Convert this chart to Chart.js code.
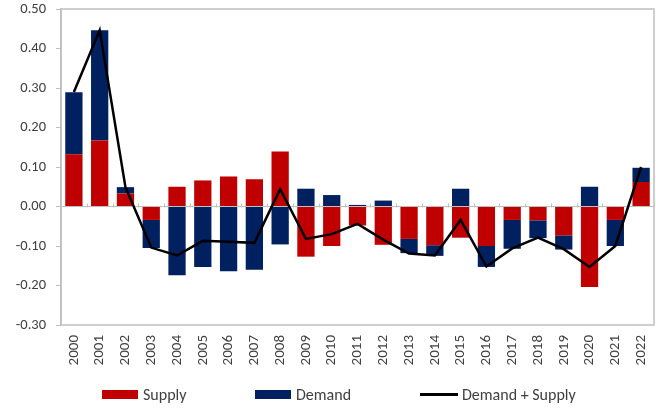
<!DOCTYPE html>
<html>
<head>
<meta charset="utf-8">
<script src="https://cdn.jsdelivr.net/npm/chart.js@4"></script>
<style>
  html, body { margin: 0; padding: 0; background: #fff; }
  #wrap { position: relative; width: 656px; height: 409px; }
  #legend {
    position: absolute; left: 102px; top: 385px; height: 19px;
    display: flex; align-items: center;
    font-family: Carlito, Lato, 'Open Sans', sans-serif; font-size: 16px; color: #404040;
  }
  .item { display: flex; align-items: center; white-space: nowrap; }
  .item:nth-child(1) { width: 153px; }
  .item:nth-child(2) { width: 165px; }
  .swatch { width: 36px; height: 9px; margin-right: 5px; }
  .swatch.line { width: 38px; height: 3px; margin-right: 4px; }
</style>
</head>
<body>
<div id="wrap">
  <canvas id="my_chart"></canvas>
  <div id="legend"></div>
</div>
<script>
const years = ["2000","2001","2002","2003","2004","2005","2006","2007","2008","2009","2010","2011",
  "2012","2013","2014","2015","2016","2017","2018","2019","2020","2021","2022"]

const supply = [0.132, 0.167, 0.033, -0.034, 0.050, 0.066, 0.076, 0.069, 0.139, -0.127, -0.100, -0.048,
  -0.097, -0.082, -0.098, -0.079, -0.100, -0.034, -0.035, -0.073, -0.204, -0.034, 0.062]

const demand = [0.157, 0.279, 0.016, -0.071, -0.174, -0.153, -0.164, -0.160, -0.096, 0.045, 0.029, 0.004,
  0.015, -0.036, -0.027, 0.045, -0.053, -0.073, -0.045, -0.036, 0.050, -0.066, 0.036]

const total = [0.290, 0.446, 0.049, -0.104, -0.124, -0.087, -0.089, -0.092, 0.044, -0.082, -0.070, -0.044,
  -0.084, -0.119, -0.124, -0.034, -0.152, -0.106, -0.079, -0.108, -0.153, -0.100, 0.100]

const yTicks = [-0.3, -0.2, -0.1, 0, 0.1, 0.2, 0.3, 0.4, 0.5]

const fontFamily = "Carlito, Lato, 'Open Sans', sans-serif"
const textColor = '#404040'
const axisGray = '#BFBFBF'

// plot box plus the little category ticks sitting on the zero line
const frame = {
  id: 'frame',
  beforeDatasetsDraw(chart) {
    const ctx = chart.ctx
    const x = chart.scales.x
    const y = chart.scales.y
    const zero = Math.round(y.getPixelForValue(0)) + 0.5
    ctx.save()
    ctx.strokeStyle = axisGray
    ctx.lineWidth = 1
    for (let i = 1; i < years.length; i++) {
      const px = Math.round(x.getPixelForValue(i - 0.5)) + 0.5
      ctx.beginPath()
      ctx.moveTo(px, zero)
      ctx.lineTo(px, zero - 4)
      ctx.stroke()
    }
    ctx.restore()
  },
  afterDraw(chart) {
    const ctx = chart.ctx
    const a = chart.chartArea
    ctx.save()
    ctx.strokeStyle = axisGray
    ctx.lineWidth = 1.5
    ctx.strokeRect(Math.round(a.left), Math.round(a.top), Math.round(a.right - a.left), Math.round(a.bottom - a.top))
    ctx.restore()
  }
}

const chart = new Chart(document.querySelector('#my_chart'), {
  data: {
    labels: years,
    datasets: [
      {
        type: 'bar',
        label: 'Supply',
        data: supply,
        backgroundColor: '#C00000',
        borderWidth: 0,
        stack: 'ds',
        order: 1
      },
      {
        type: 'bar',
        label: 'Demand',
        data: demand,
        backgroundColor: '#002060',
        borderWidth: 0,
        stack: 'ds',
        order: 1
      },
      {
        type: 'line',
        label: 'Demand + Supply',
        data: total,
        borderColor: '#000000',
        backgroundColor: '#000000',
        borderWidth: 2.5,
        pointRadius: 0,
        tension: 0,
        stack: 'total',
        order: 0
      }
    ]
  },
  options: {
    responsive: true,
    maintainAspectRatio: false,
    animation: false,
    layout: { padding: { top: 9, right: 2, left: 0, bottom: 32 } },
    datasets: {
      bar: { categoryPercentage: 1, barPercentage: 0.67 }
    },
    plugins: {
      tooltip: { enabled: false },
      legend: { display: false }
    },
    scales: {
      x: {
        stacked: true,
        grid: { display: false, drawTicks: false },
        border: { display: false },
        ticks: {
          font: { family: fontFamily, size: 15 },
          color: textColor,
          minRotation: 90,
          maxRotation: 90,
          autoSkip: false,
          padding: 10
        },
        afterFit(scale) {
          scale.height = 52
          scale.paddingLeft = 0
          scale.paddingRight = 0
        }
      },
      y: {
        stacked: true,
        min: -0.3,
        max: 0.5,
        afterBuildTicks(scale) { scale.ticks = yTicks.map(v => ({ value: v })) },
        grid: {
          color: ctx => ctx.tick && ctx.tick.value === 0 ? axisGray : 'rgba(0,0,0,0)',
          tickColor: axisGray,
          tickLength: 5,
          lineWidth: 1
        },
        border: { display: true, color: axisGray, width: 1.5 },
        ticks: {
          font: { family: fontFamily, size: 14.5 },
          color: textColor,
          padding: 10,
          callback: v => v.toFixed(2)
        },
        afterFit(scale) {
          scale.width = 61
          scale.paddingTop = 0
          scale.paddingBottom = 0
        }
      }
    }
  },
  plugins: [frame]
})

// legend built from the datasets, laid out like the original
const legendBox = document.querySelector('#legend')
chart.data.datasets.forEach(ds => {
  const item = document.createElement('div')
  item.className = 'item'
  const swatch = document.createElement('span')
  swatch.className = ds.type === 'line' ? 'swatch line' : 'swatch'
  swatch.style.background = ds.type === 'line' ? ds.borderColor : ds.backgroundColor
  item.appendChild(swatch)
  const label = document.createElement('span')
  label.textContent = ds.label
  item.appendChild(label)
  legendBox.appendChild(item)
})
</script>
</body>
</html>
